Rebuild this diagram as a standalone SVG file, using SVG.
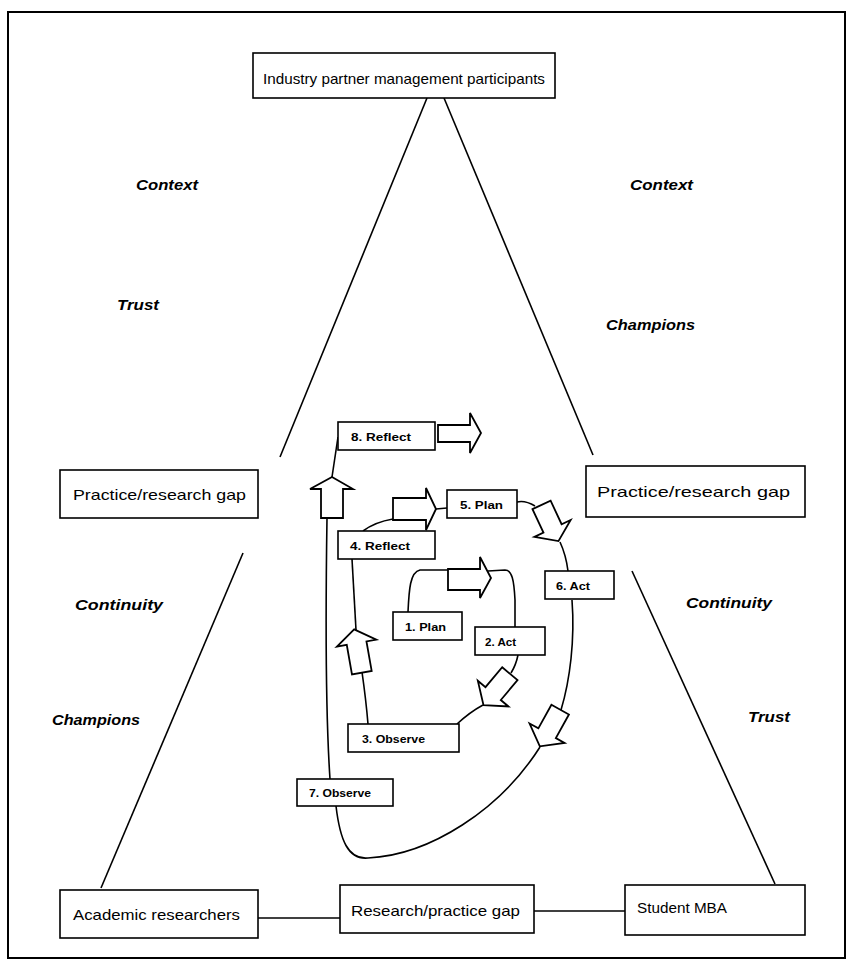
<svg xmlns="http://www.w3.org/2000/svg" width="849" height="972" viewBox="0 0 849 972">
<style>
.box{fill:#fff;stroke:#000;stroke-width:1.6}
.ln{fill:none;stroke:#000;stroke-width:1.6}
.arr{fill:#fff;stroke:#000;stroke-width:1.8;stroke-linejoin:miter}
.t{font-family:"Liberation Sans",Arial,sans-serif;font-size:15px;fill:#000}
.it{font-family:"Liberation Sans",Arial,sans-serif;font-size:15.5px;font-weight:bold;font-style:italic;fill:#000}
.s{font-family:"Liberation Sans",Arial,sans-serif;font-size:11.5px;font-weight:bold;fill:#000}
</style>
<rect x="0" y="0" width="849" height="972" fill="#fff"/>
<rect x="8" y="12" width="837" height="946" fill="none" stroke="#000" stroke-width="2"/>

<g id="connectors">
<line class="ln" x1="427" y1="98" x2="280" y2="457"/>
<line class="ln" x1="444" y1="98" x2="593" y2="455"/>
<line class="ln" x1="243" y1="553" x2="101" y2="888"/>
<line class="ln" x1="632" y1="571" x2="775" y2="884"/>
<line class="ln" x1="258" y1="918" x2="340" y2="918"/>
<line class="ln" x1="534" y1="911" x2="625" y2="911"/>
<path class="ln" d="M338,437 L332,477"/>
<path class="ln" d="M327,518 C325,650 326,720 330,779"/>
<path class="ln" d="M336,806 C340,840 348,860 368,858 C430,855 500,810 540,747"/>
<path class="ln" d="M572,600 C575,640 570,680 561,710"/>
<path class="ln" d="M517,502 Q525,500 535,506"/>
<path class="ln" d="M560,542 Q566,555 568,571"/>
<path class="ln" d="M363,531 Q375,522 393,519"/>
<path class="ln" d="M436,509 L447,508"/>
<path class="ln" d="M352,559 L356,630"/>
<path class="ln" d="M362,672 Q366,700 368,724"/>
<path class="ln" d="M457,724 Q470,712 483,705"/>
<path class="ln" d="M518,655 Q516,665 511,673"/>
<path class="ln" d="M408,612 C409,590 410,572 420,570 L448,570"/>
<path class="ln" d="M488,571 L505,570 C512,570 514,580 515,600 L515,627"/>
</g>

<g id="arrows">
<polygon class="arr" points="438,425 470,425 470,413 481,433 470,453 470,442 438,442"/>
<polygon class="arr" points="393,498 426,498 426,488 436,509 426,530 426,520 393,520"/>
<polygon class="arr" points="448,569 480,569 480,557 491,578 480,598 480,590 448,590"/>
<polygon class="arr" points="321,518 321,489 310,489 332,477 353,489 343,489 343,518"/>
<polygon class="arr" transform="translate(358,651) rotate(-10)" points="-10,22 -10,-8 -20,-8 0,-22 20,-8 10,-8 10,22"/>
<polygon class="arr" transform="translate(550,523) rotate(-25)" points="-10,-20 10,-20 10,6 20,6 0,20 -20,6 -10,6"/>
<polygon class="arr" transform="translate(497,689) rotate(40)" points="-10,-20 10,-20 10,6 20,6 0,21 -20,6 -10,6"/>
<polygon class="arr" transform="translate(550,728) rotate(29)" points="-10,-21 10,-21 10,6 20,6 0,21 -20,6 -10,6"/>
</g>

<g id="industry"><rect class="box" x="253" y="53" width="302" height="45"/><text class="t" x="263" y="84" textLength="282" lengthAdjust="spacingAndGlyphs">Industry partner management participants</text></g>
<g id="gap-left"><rect class="box" x="60" y="470" width="198" height="48"/><text class="t" x="73" y="500" textLength="173" lengthAdjust="spacingAndGlyphs">Practice/research gap</text></g>
<g id="gap-right"><rect class="box" x="586" y="466" width="219" height="51"/><text class="t" x="597" y="497" textLength="193" lengthAdjust="spacingAndGlyphs">Practice/research gap</text></g>
<g id="academic"><rect class="box" x="60" y="890" width="198" height="48"/><text class="t" x="73" y="920" textLength="167" lengthAdjust="spacingAndGlyphs">Academic researchers</text></g>
<g id="research-gap"><rect class="box" x="340" y="885" width="194" height="48"/><text class="t" x="351" y="916" textLength="169" lengthAdjust="spacingAndGlyphs">Research/practice gap</text></g>
<g id="student"><rect class="box" x="625" y="885" width="180" height="50"/><text class="t" x="637" y="913" textLength="90" lengthAdjust="spacingAndGlyphs">Student MBA</text></g>

<g id="labels">
<text class="it" x="136" y="190" textLength="62" lengthAdjust="spacingAndGlyphs">Context</text>
<text class="it" x="630" y="190" textLength="63" lengthAdjust="spacingAndGlyphs">Context</text>
<text class="it" x="117" y="310" textLength="42" lengthAdjust="spacingAndGlyphs">Trust</text>
<text class="it" x="606" y="330" textLength="89" lengthAdjust="spacingAndGlyphs">Champions</text>
<text class="it" x="75" y="610" textLength="88" lengthAdjust="spacingAndGlyphs">Continuity</text>
<text class="it" x="686" y="608" textLength="86" lengthAdjust="spacingAndGlyphs">Continuity</text>
<text class="it" x="52" y="725" textLength="88" lengthAdjust="spacingAndGlyphs">Champions</text>
<text class="it" x="748" y="722" textLength="42" lengthAdjust="spacingAndGlyphs">Trust</text>
</g>

<g id="n8"><rect class="box" x="338" y="422" width="97" height="28"/><text class="s" x="351" y="441" textLength="60" lengthAdjust="spacingAndGlyphs">8. Reflect</text></g>
<g id="n5"><rect class="box" x="447" y="490" width="70" height="28"/><text class="s" x="460" y="509" textLength="43" lengthAdjust="spacingAndGlyphs">5. Plan</text></g>
<g id="n4"><rect class="box" x="338" y="531" width="97" height="28"/><text class="s" x="350" y="550" textLength="60" lengthAdjust="spacingAndGlyphs">4. Reflect</text></g>
<g id="n6"><rect class="box" x="545" y="571" width="69" height="28"/><text class="s" x="556" y="590" textLength="34" lengthAdjust="spacingAndGlyphs">6. Act</text></g>
<g id="n1"><rect class="box" x="393" y="612" width="69" height="28"/><text class="s" x="405" y="631" textLength="41" lengthAdjust="spacingAndGlyphs">1. Plan</text></g>
<g id="n2"><rect class="box" x="475" y="627" width="70" height="28"/><text class="s" x="485" y="646" textLength="31" lengthAdjust="spacingAndGlyphs">2. Act</text></g>
<g id="n3"><rect class="box" x="348" y="724" width="111" height="28"/><text class="s" x="362" y="743" textLength="63" lengthAdjust="spacingAndGlyphs">3. Observe</text></g>
<g id="n7"><rect class="box" x="297" y="779" width="96" height="27"/><text class="s" x="309" y="797" textLength="62" lengthAdjust="spacingAndGlyphs">7. Observe</text></g>
</svg>
